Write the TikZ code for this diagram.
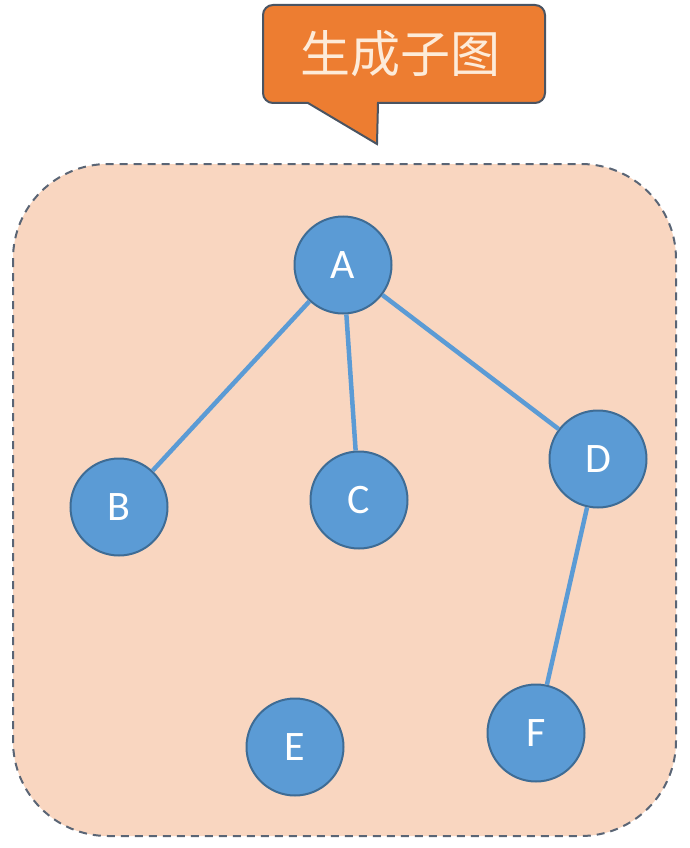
\documentclass[tikz,border=0pt]{standalone}
\usepackage{fontspec}
\setmainfont{Carlito}
\newfontfamily\cjk{Noto Sans CJK SC}
\begin{document}
\begin{tikzpicture}[x=1pt,y=-1pt,
  vertex/.style={circle,draw=vborder,fill=vfill,line width=2pt,minimum size=97pt,inner sep=0pt,
    text=white,font=\fontsize{42}{44}\selectfont},
  edge/.style={draw=vfill,line width=4.5pt}]
\definecolor{vfill}{HTML}{5B9BD5}
\definecolor{vborder}{HTML}{3E6C95}
\definecolor{panel}{HTML}{F9D6C0}
\definecolor{panelline}{HTML}{5A6575}
\definecolor{callfill}{HTML}{ED7D31}
\definecolor{callline}{HTML}{4A5462}
\definecolor{calltext}{HTML}{FDEBD9}
\useasboundingbox (0,0) rectangle (690,848);
\fill[white] (0,0) rectangle (690,848);
% dashed panel
\draw[fill=panel,draw=panelline,line width=2pt,dash pattern=on 8pt off 6pt,rounded corners=95pt]
  (13,164) rectangle (676,836);
% callout with its pointer
\draw[fill=callfill,draw=callline,line width=2pt,line join=miter]
  (308,103) [rounded corners=10pt] -- (263,103) -- (263,5) -- (545,5) -- (545,103)
  [sharp corners] -- (378,103) -- (377,144) -- (308,103) -- cycle;
\node[text=calltext,font=\cjk\fontsize{50}{54}\selectfont] (title) at (400,54) {生成子图};
% vertices
\node[vertex] (A) at (343,265) {A};
\node[vertex] (B) at (119,507) {B};
\node[vertex] (C) at (359,500) {C};
\node[vertex] (D) at (598,459) {D};
\node[vertex] (E) at (295,747) {E};
\node[vertex] (F) at (536,733) {F};
% edges
\draw[edge] (A) -- (B);
\draw[edge] (A) -- (C);
\draw[edge] (A) -- (D);
\draw[edge] (D) -- (F);
\end{tikzpicture}
\end{document}
